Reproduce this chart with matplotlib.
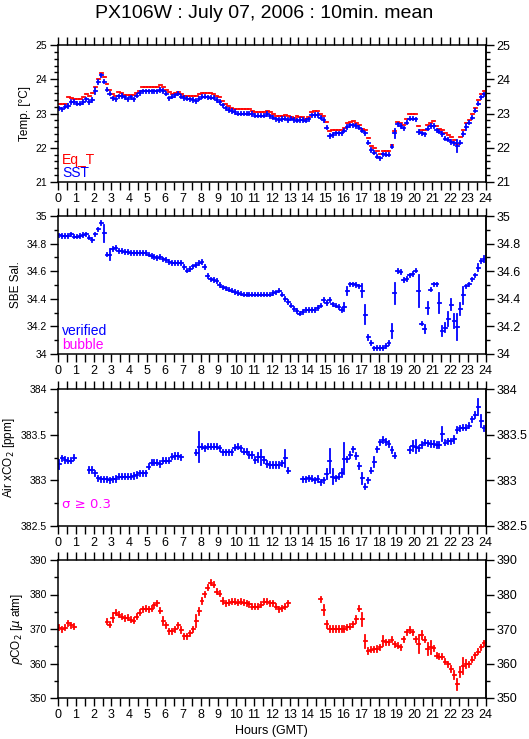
import numpy as np
import matplotlib
matplotlib.use('Agg')
import matplotlib.pyplot as plt
from matplotlib.ticker import MultipleLocator

plt.rcParams['font.family'] = ['Liberation Sans', 'DejaVu Sans']
nan = np.nan

# ---------------- data (10-min means, slot k centred at (k+0.5)/6 h) ----------------
eq_t = [
    23.29, 23.29, 23.28, 23.47, 23.45, 23.43,
    23.42, 23.42, 23.47, 23.56, 23.50, 23.61,
    23.76, 24.01, 24.19, 24.07, 23.85, 23.68,
    23.57, 23.52, 23.63, 23.60, 23.55, 23.55,
    23.55, 23.55, 23.60, 23.65, 23.76, 23.76,
    23.76, 23.76, 23.76, 23.76, 23.82, 23.78,
    23.70, 23.62, 23.58, 23.61, 23.63, 23.58,
    23.52, 23.52, 23.52, 23.50, 23.51, 23.56,
    23.59, 23.60, 23.60, 23.60, 23.58, 23.50,
    23.49, 23.37, 23.29, 23.21, 23.17, 23.14,
    23.12, 23.12, 23.12, 23.12, 23.12, 23.08,
    23.05, 23.05, 23.05, 23.05, 23.08, 23.05,
    23.00, 22.94, 22.92, 22.94, 22.96, 22.92,
    22.90, 22.88, 22.92, 22.90, 22.90, 22.85,
    22.90, 23.03, 23.06, 23.06, 23.00, 22.92,
    22.74, 22.49, 22.51, 22.53, 22.51, 22.53,
    22.57, 22.73, 22.76, 22.78, 22.71, 22.66,
    22.56, 22.53, 22.29, 22.05, 21.98, 21.90,
    21.82, 21.90, 21.90, 21.90, 22.08, 22.50,
    22.76, 22.73, 22.66, 22.83, 22.98, 22.98,
    22.98, 22.63, 22.53, 22.51, 22.66, 22.71,
    22.78, 22.63, 22.56, 22.53, 22.42, 22.37,
    22.32, 22.22, 22.10, 22.30, 22.53, 22.71,
    22.81, 22.98, 23.17, 23.39, 23.56, 23.66,
]
sst = [
    23.15, 23.12, 23.20, 23.22, 23.34, 23.34,
    23.29, 23.29, 23.33, 23.41, 23.34, 23.39,
    23.66, 23.92, 24.11, 23.93, 23.70, 23.58,
    23.44, 23.41, 23.50, 23.51, 23.47, 23.41,
    23.47, 23.41, 23.52, 23.60, 23.65, 23.65,
    23.65, 23.65, 23.65, 23.65, 23.69, 23.66,
    23.58, 23.44, 23.49, 23.53, 23.58, 23.49,
    23.45, 23.43, 23.41, 23.39, 23.36, 23.43,
    23.49, 23.49, 23.47, 23.46, 23.46, 23.39,
    23.34, 23.24, 23.15, 23.10, 23.07, 23.05,
    23.00, 23.00, 23.00, 23.00, 23.00, 22.98,
    22.94, 22.94, 22.94, 22.94, 22.98, 22.92,
    22.88, 22.83, 22.81, 22.84, 22.85, 22.81,
    22.85, 22.81, 22.79, 22.81, 22.81, 22.79,
    22.83, 22.95, 22.96, 22.96, 22.88, 22.81,
    22.59, 22.34, 22.37, 22.42, 22.42, 22.42,
    22.50, 22.61, 22.65, 22.65, 22.63, 22.59,
    22.50, 22.42, 22.15, 21.93, 21.86, 21.74,
    21.69, 21.81, 21.80, 21.80, 22.03, 22.42,
    22.68, 22.63, 22.57, 22.73, 22.85, 22.85,
    22.83, 22.46, 22.42, 22.39, 22.56, 22.63,
    22.63, 22.51, 22.47, 22.40, 22.27, 22.24,
    22.17, 22.13, 22.05, 22.15, 22.40, 22.61,
    22.73, 22.88, 23.08, 23.29, 23.47, 23.56,
]
sst_err_default = 0.05
sst_err_big = {12: 0.08, 113: 0.14, 134: 0.17, 137: 0.09}

sal = [
    34.860, 34.855, 34.855, 34.855, 34.867, 34.850,
    34.850, 34.855, 34.862, 34.867, 34.843, 34.826,
    34.867, 34.903, 34.950, 34.874, 34.720, 34.720,
    34.763, 34.767, 34.746, 34.746, 34.740, 34.740,
    34.732, 34.730, 34.730, 34.730, 34.730, 34.730,
    34.720, 34.710, 34.703, 34.695, 34.703, 34.685,
    34.680, 34.667, 34.660, 34.660, 34.660, 34.660,
    34.632, 34.605, 34.617, 34.635, 34.647, 34.660,
    34.665, 34.632, 34.564, 34.540, 34.535, 34.528,
    34.500, 34.482, 34.475, 34.467, 34.460, 34.450,
    34.443, 34.438, 34.431, 34.431, 34.431, 34.431,
    34.431, 34.431, 34.431, 34.431, 34.431, 34.431,
    34.443, 34.447, 34.460, 34.431, 34.400, 34.375,
    34.351, 34.327, 34.310, 34.293, 34.303, 34.317,
    34.320, 34.320, 34.317, 34.334, 34.350, 34.390,
    34.368, 34.390, 34.360, 34.351, 34.342, 34.320,
    34.340, 34.455, 34.504, 34.504, 34.500, 34.490,
    34.460, 34.286, 34.120, 34.080, 34.040, 34.045,
    34.045, 34.045, 34.060, 34.080, 34.165, 34.440,
    34.600, 34.593, 34.535, 34.545, 34.570, 34.580,
    34.605, 34.455, 34.220, 34.180, 34.334, 34.467,
    34.504, 34.504, 34.370, 34.165, 34.190, 34.254,
    34.358, 34.237, 34.196, 34.327, 34.424, 34.490,
    34.504, 34.540, 34.569, 34.625, 34.673, 34.690,
]
sal_err_default = 0.013
sal_err_big = {15: 0.06, 17: 0.04, 96: 0.03, 97: 0.03, 102: 0.045, 103: 0.07,
               104: 0.02, 112: 0.05, 113: 0.075, 121: 0.115, 123: 0.027,
               124: 0.045, 128: 0.072, 129: 0.036, 130: 0.034, 131: 0.048,
               132: 0.039, 133: 0.05, 134: 0.092, 135: 0.046, 136: 0.06,
               141: 0.024, 143: 0.02}

air_xco2 = [
    383.175, 383.241, 383.223, 383.215, 383.215, 383.248,
    nan, nan, nan, nan, 383.113, 383.113,
    383.077, 383.022, 383.011, 383.011, 383.011, 383.000,
    383.011, 383.015, 383.040, 383.040, 383.040, 383.040,
    383.040, 383.047, 383.058, 383.077, 383.077, 383.077,
    383.150, 383.193, 383.193, 383.193, 383.179, 383.215,
    383.215, 383.215, 383.259, 383.266, 383.266, 383.252,
    nan, nan, nan, nan, 383.303, 383.369,
    383.369, 383.350, 383.369, 383.369, 383.369, 383.369,
    383.350, 383.307, 383.307, 383.307, 383.307, 383.358,
    383.369, 383.350, 383.314, 383.314, 383.277, 383.277,
    383.223, 383.252, 383.252, 383.223, 383.179, 383.168,
    383.168, 383.168, 383.168, 383.186, 383.241, 383.106,
    nan, nan, nan, nan, 383.011, 383.011,
    383.022, 383.018, 383.000, 383.015, 382.978, 383.000,
    383.069, 383.212, 383.040, 383.022, 383.040, 383.077,
    383.234, 383.230, 383.277, 383.340, 383.266, 383.157,
    383.022, 382.930, 383.000, 383.106, 383.204, 383.340,
    383.416, 383.442, 383.420, 383.398, 383.332, 383.270,
    nan, nan, nan, nan, 383.332, 383.380,
    383.369, 383.350, 383.387, 383.412, 383.405, 383.398,
    383.398, 383.387, 383.387, 383.507, 383.412, 383.430,
    383.430, 383.449, 383.551, 383.569, 383.577, 383.577,
    383.599, 383.668, 383.715, 383.800, 383.650, 383.569,
]
air_err_default = 0.028
air_err_big = {0: 0.05, 47: 0.165, 67: 0.05, 68: 0.08, 76: 0.09, 90: 0.055,
               91: 0.13, 92: 0.085, 95: 0.045, 96: 0.17, 102: 0.06, 106: 0.055,
               119: 0.055, 120: 0.07, 129: 0.08, 133: 0.04, 141: 0.09, 142: 0.065}

pco2 = [
    370.43, 369.95, 370.43, 371.69, 371.11, 370.72,
    nan, nan, nan, nan, nan, nan,
    nan, nan, nan, nan, 372.07, 371.20,
    373.33, 374.77, 374.19, 373.61, 373.13, 373.33,
    372.65, 372.36, 373.61, 374.77, 375.74, 375.93,
    375.74, 375.93, 376.89, 377.47, 375.35, 372.36,
    371.11, 369.37, 369.37, 369.95, 371.11, 369.76,
    367.83, 367.83, 368.79, 369.95, 372.36, 375.16,
    378.14, 380.07, 382.00, 383.45, 382.87, 380.84,
    380.27, 378.14, 377.47, 377.66, 377.95, 377.95,
    377.66, 377.95, 377.66, 377.47, 377.18, 376.51,
    376.51, 376.51, 376.99, 377.95, 377.95, 377.47,
    377.47, 376.51, 375.74, 376.02, 376.51, 377.47,
    nan, nan, nan, nan, nan, nan,
    nan, nan, nan, nan, 378.60, 375.50,
    371.40, 370.00, 370.00, 370.00, 370.00, 370.00,
    370.00, 370.50, 370.70, 371.40, 372.80, 375.90,
    372.80, 366.40, 363.60, 364.00, 364.10, 364.20,
    364.65, 366.60, 366.10, 366.10, 366.90, 365.60,
    365.10, 364.65, 367.00, 369.00, 369.70, 369.00,
    367.00, 365.60, 368.20, 366.90, 364.20, 364.65,
    364.40, 362.20, 362.00, 362.00, 360.50, 359.80,
    358.40, 356.70, 354.00, 357.40, 359.20, 359.80,
    359.80, 361.10, 362.40, 363.40, 364.65, 365.80,
]
pco2_err_default = 0.75
pco2_err_big = {18: 1.35, 35: 1.2, 41: 0.9, 46: 1.7, 47: 1.06, 89: 1.5, 90: 1.0,
                94: 0.9, 100: 1.0, 102: 1.8, 103: 1.9, 109: 1.45, 121: 2.6,
                122: 1.2, 124: 1.7, 125: 1.9, 133: 1.2, 134: 1.6, 135: 1.45,
                136: 2.3, 137: 1.1}

hour_ticks = list(range(0, 25))
title = 'PX106W : July 07, 2006 : 10min. mean'

# ---------------- drawing ----------------
hours = (np.arange(144) + 0.5) / 6.0
half = 1.0 / 12.0


def errs(default, big):
    e = np.full(144, default)
    for k, v in big.items():
        e[k] = v
    return e


RED = '#ff0000'
BLUE = '#0000ff'
MAG = '#ff00ff'
LW = 1.3

W, H = 529, 739
fig = plt.figure(figsize=(W / 100, H / 100), dpi=100)

left = 58 / W
width = (485.5 - 58) / W
panels = [(45, 182), (216, 354), (389, 526), (560, 698)]
axes = []
for top, bot in panels:
    ax = fig.add_axes([left, 1 - bot / H, width, (bot - top) / H])
    axes.append(ax)


def draw(ax, y, yerr, color):
    eb = ax.errorbar(hours, y, xerr=half, yerr=yerr, fmt='none', ecolor=color,
                     elinewidth=LW, capsize=0)
    for c in eb[2]:
        c.set_capstyle('projecting')


def style(ax, ylim, major, minor, ylabel, fmt):
    ax.set_xlim(0, 24)
    ax.set_ylim(*ylim)
    ax.xaxis.set_minor_locator(MultipleLocator(0.5))
    ax.yaxis.set_minor_locator(MultipleLocator(minor))
    ax.set_xticks(hour_ticks)
    ax.set_xticklabels([str(h) for h in hour_ticks])
    ax.tick_params(axis='both', which='both', direction='out', width=1.0,
                   top=True, colors='black')
    ax.tick_params(axis='x', which='both', length=6, labelsize=9, pad=2)
    ax.tick_params(axis='y', which='major', length=6, pad=2, labelsize=7.5)
    ax.tick_params(axis='y', which='minor', length=3)
    ax.tick_params(axis='y', which='both', right=False, labelright=False)
    for sp in ax.spines.values():
        sp.set_linewidth(1.1)
    ticks = np.arange(ylim[0], ylim[1] + major / 2, major)
    ax.set_yticks(ticks)
    ax.set_yticklabels([fmt(t) for t in ticks])
    ax2 = ax.secondary_yaxis('right')
    ax2.set_yticks(ticks)
    ax2.set_yticklabels([fmt(t) for t in ticks])
    ax2.yaxis.set_minor_locator(MultipleLocator(minor))
    ax2.tick_params(which='major', length=6, width=1.0, labelsize=9, pad=2)
    ax2.tick_params(which='minor', length=3, width=1.0)
    ax2.spines['right'].set_linewidth(1.1)
    ax.set_ylabel(ylabel, fontsize=8.5, labelpad=3)


def fmt_g(t):
    return ('%g' % round(t, 3))


ax = axes[0]
draw(ax, eq_t, None, RED)
draw(ax, sst, errs(sst_err_default, sst_err_big), BLUE)
style(ax, (21, 25), 1, 0.2, 'Temp. [°C]', fmt_g)
ax.text(0.01, 0.16, 'Eq_T', color=RED, fontsize=10, transform=ax.transAxes, va='center')
ax.text(0.01, 0.066, 'SST', color=BLUE, fontsize=10, transform=ax.transAxes, va='center')

ax = axes[1]
draw(ax, sal, errs(sal_err_default, sal_err_big), BLUE)
style(ax, (34, 35), 0.2, 0.1, 'SBE Sal.', fmt_g)
ax.text(0.01, 0.167, 'verified', color=BLUE, fontsize=10, transform=ax.transAxes, va='center')
ax.text(0.01, 0.065, 'bubble', color=MAG, fontsize=10, transform=ax.transAxes, va='center')

ax = axes[2]
draw(ax, air_xco2, errs(air_err_default, air_err_big), BLUE)
style(ax, (382.5, 384), 0.5, 0.25, r'Air xCO$_2$ [ppm]', fmt_g)
ax.text(0.01, 0.16, 'σ ≥ 0.3', color=MAG, fontsize=9.5, transform=ax.transAxes,
        va='center', family=['DejaVu Sans'])

ax = axes[3]
draw(ax, pco2, errs(pco2_err_default, pco2_err_big), RED)
style(ax, (350, 390), 10, 5, r'$\rho$CO$_2$ [$\mu$ atm]', fmt_g)
ax.set_xlabel('Hours (GMT)', fontsize=9, labelpad=3)

fig.text(0.5, 1 - 14 / H, title, ha='center', va='center', fontsize=14)

fig.savefig('out.png', dpi=100)
